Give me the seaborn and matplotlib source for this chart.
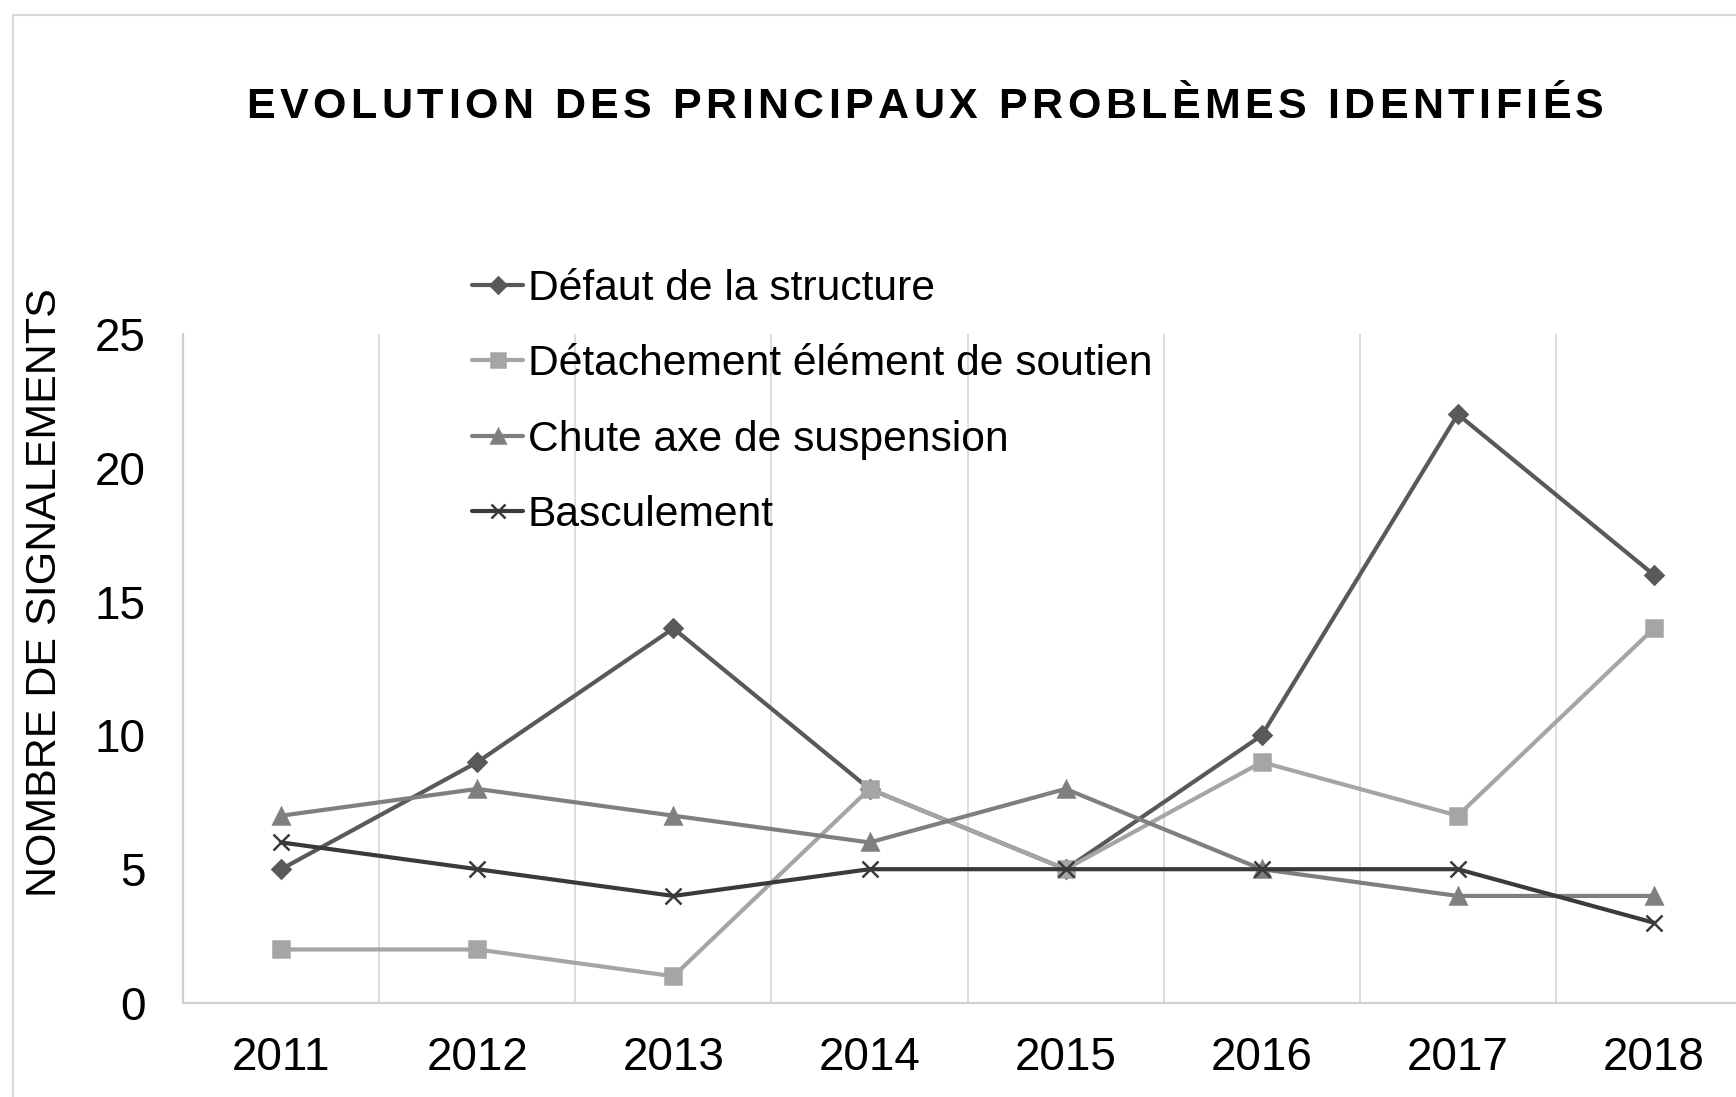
import pandas as pd
import numpy as np
import matplotlib
matplotlib.use('Agg')
import matplotlib.pyplot as plt
import matplotlib.patches as patches
import seaborn as sns

# Chart data
years = ['2011', '2012', '2013', '2014', '2015', '2016', '2017', '2018']
defaut_structure = [5, 9, 14, 8, 5, 10, 22, 16]
detachement = [2, 2, 1, 8, 5, 9, 7, 14]
chute_axe = [7, 8, 7, 6, 8, 5, 4, 4]
basculement = [6, 5, 4, 5, 5, 5, 5, 3]

series_names = ['Défaut de la structure', 'Détachement élément de soutien',
                'Chute axe de suspension', 'Basculement']
series_values = [defaut_structure, detachement, chute_axe, basculement]
colors = ['#595959', '#a5a5a5', '#7f7f7f', '#3a3a3a']
marker_list = ['D', 's', '^', 'x']
marker_sizes = [9, 11, 11, 11]

title = 'EVOLUTION DES PRINCIPAUX PROBLÈMES IDENTIFIÉS'

sns.set_style('white')
plt.rcParams['font.family'] = ['Liberation Sans', 'DejaVu Sans']
plt.rcParams['text.color'] = 'black'
plt.rcParams['xtick.color'] = 'black'
plt.rcParams['ytick.color'] = 'black'

fig = plt.figure(figsize=(17.36, 10.97), dpi=100)
ax = fig.add_axes([0.1055, 0.0857, 0.9037, 0.6098])

for name, values, c, m, ms in zip(series_names, series_values, colors,
                                  marker_list, marker_sizes):
    d = pd.DataFrame({'year': years, 'value': values})
    sns.lineplot(d, x='year', y='value', color=c, marker=m, markersize=ms,
                 markeredgecolor=c, markeredgewidth=1.8, linewidth=3.0,
                 label=name, ax=ax)

ax.set_xlim(-0.5, 7.5)
ax.set_ylim(0, 25)
ax.set_yticks([0, 5, 10, 15, 20, 25])
ax.set_xticks(range(len(years)))
ax.set_xticks(np.arange(0.5, 7.5, 1), minor=True)
ax.grid(False)
ax.grid(which='minor', axis='x', color='#d9d9d9', linewidth=1.3)
ax.tick_params(axis='both', which='both', length=0, labelsize=33)
ax.tick_params(axis='x', pad=24)
ax.tick_params(axis='y', pad=27)
for side in ['top', 'right']:
    ax.spines[side].set_visible(False)
for side in ['left', 'bottom']:
    ax.spines[side].set_color('#d0d0d0')
    ax.spines[side].set_linewidth(1.6)

ax.set_xlabel('')
ax.set_ylabel('')
fig.text(0.026, 0.46, 'NOMBRE DE SIGNALEMENTS', rotation=90,
         ha='center', va='center', fontsize=31)

# letter-spaced bold title, placed char by char
renderer = fig.canvas.get_renderer()
fs = 31


def text_width(s):
    t = fig.text(0, 0, s, fontsize=fs, fontweight='bold')
    w = t.get_window_extent(renderer).width
    t.remove()
    return w


base = text_width('HH')
advances = [text_width('H' + ch + 'H') - base for ch in title]
target_w = 1357.0
gap = (target_w - sum(advances)) / (len(title) - 1)
x = 925.0 - target_w / 2
W, H = fig.get_size_inches() * fig.dpi
for ch, adv in zip(title, advances):
    if ch != ' ':
        fig.text(x / W, 1 - 118 / H, ch, fontsize=fs, fontweight='bold',
                 ha='left', va='baseline')
    x += adv + gap

handles, labels = ax.get_legend_handles_labels()
ax.legend(handles, labels, loc='upper left', bbox_to_anchor=(0.272, 0.755),
          bbox_transform=fig.transFigure, frameon=False, fontsize=30.7,
          handlelength=1.2, handletextpad=0.1, labelspacing=0.83,
          borderpad=0, borderaxespad=0, markerscale=0.9)

# outer chart frame
fig.patches.append(patches.Rectangle((0.0075, -0.1), 1.1, 1.086,
                                     transform=fig.transFigure, fill=False,
                                     edgecolor='#d9d9d9', linewidth=1.5))

fig.savefig('out.png', dpi=100)
